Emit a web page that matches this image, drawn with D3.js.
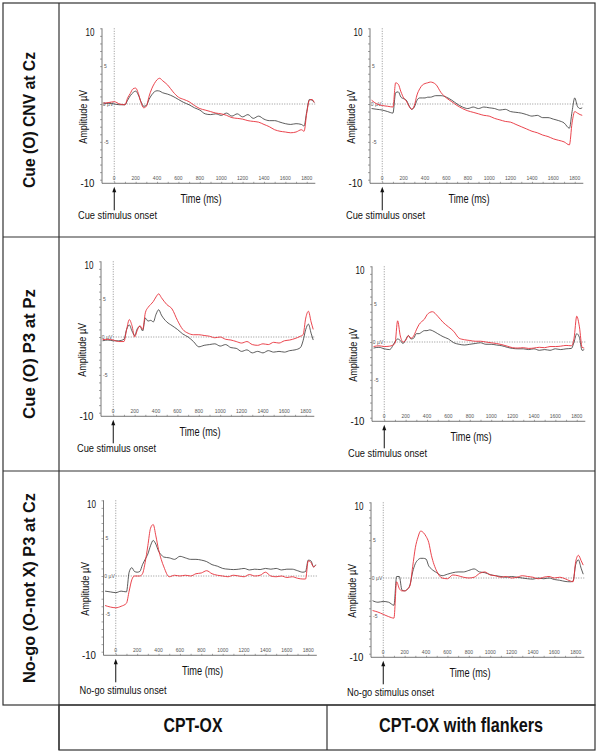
<!DOCTYPE html>
<html><head><meta charset="utf-8">
<script src="https://cdn.jsdelivr.net/npm/d3@7"></script>
<style>html,body{margin:0;padding:0;background:#fff;} svg{display:block;font-family:"Liberation Sans",Arial,sans-serif;}</style>
</head><body><svg id="c" width="600" height="755"></svg>
<script>
// ---------------- DATA ----------------
const times = [-100,-50,0,50,100,125,150,175,200,225,250,275,300,325,350,375,400,425,450,
  500,550,600,650,700,750,800,850,900,950,1000,1050,1100,1150,1200,1250,1300,1350,1400,1450,1500,1550,1600,1650,1700,1750,
  1775,1800,1825,1850,1870];

const rowLabels = ["Cue (O) CNV at Cz", "Cue (O) P3 at Pz", "No-go (O-not X) P3 at Cz"];
const colLabels = ["CPT-OX", "CPT-OX with flankers"];
const onsetLabels = ["Cue stimulus onset", "Cue stimulus onset", "No-go stimulus onset"];
const xTickValues = [0,200,400,600,800,1000,1200,1400,1600,1800];
const yMajorLabels = ["10", "-10"];
const yMinorLabels = ["5", "-5"];
const zeroLabel = "0 µV";
const xAxisTitle = "Time (ms)";
const yAxisTitle = "Amplitude µV";

// Row 1: Cue CNV at Cz
const cnvCptBlack = [0.0,0.1,0.0,-0.1,-0.1,0.5,1.1,1.5,1.7,1.2,0.3,-0.3,-0.2,0.6,1.2,1.6,1.75,1.7,1.5,
  1.3,1.0,0.6,0.2,-0.1,-0.5,-0.8,-1.3,-1.4,-1.3,-1.5,-1.2,-1.6,-1.3,-1.7,-1.4,-1.9,-1.6,-2.0,-2.2,-2.2,-2.4,-2.6,-2.7,-2.6,-2.7,
  -2.9,-1.0,0.6,0.5,0.2];
const cnvCptRed = [0.1,0.2,0.3,0.0,-0.1,0.8,1.4,2.0,2.1,1.4,0.2,-0.5,-0.3,1.0,2.0,2.7,3.2,3.4,3.1,
  2.5,1.6,0.9,0.6,0.3,-0.2,-0.6,-0.8,-1.0,-1.2,-1.3,-1.5,-1.8,-1.9,-2.0,-2.2,-2.3,-2.4,-2.7,-3.0,-3.4,-3.6,-3.7,-3.8,-3.7,-3.4,
  -3.6,-1.2,0.5,0.6,0.2];
const cnvFlkBlack = [-0.6,-0.7,-0.8,-1.0,-1.2,1.5,1.6,0.9,0.7,0.5,-0.2,-0.7,-0.4,0.5,0.8,0.8,0.8,0.9,0.9,
  1.1,1.1,0.9,0.5,0.0,-0.4,-0.6,-0.4,-0.6,-0.4,-0.5,-0.6,-0.8,-0.7,-1.0,-1.1,-1.2,-1.4,-1.6,-1.5,-1.8,-1.8,-2.0,-2.2,-2.5,-3.2,
  -1.0,0.8,-0.3,-0.6,-0.5];
const cnvFlkRed = [0.5,0.0,-0.2,-0.3,-0.4,2.8,2.6,1.6,0.8,0.4,-0.3,-0.7,-0.2,1.2,2.0,2.5,2.7,2.8,2.9,
  2.6,1.5,0.8,0.3,-0.2,-0.6,-0.9,-1.1,-1.3,-1.5,-1.6,-1.9,-2.1,-2.3,-2.4,-2.7,-3.0,-3.3,-3.6,-3.8,-4.1,-4.3,-4.6,-4.8,-5.0,-5.4,
  -2.5,-1.0,-1.2,-1.4,-1.5];
// Row 2: Cue P3 at Pz
const p3CueCptBlack = [-0.5,-0.4,-0.5,-0.5,-0.3,1.0,1.6,0.8,0.2,1.1,1.4,0.8,2.5,2.1,2.2,2.0,3.0,3.6,2.9,
  2.0,1.5,1.0,0.4,0.0,-0.6,-1.3,-1.1,-1.0,-0.9,-1.2,-1.0,-1.4,-1.5,-1.9,-1.7,-2.1,-1.9,-2.1,-1.8,-2.0,-1.9,-2.0,-1.8,-1.7,-1.4,
  -0.5,1.0,1.7,0.5,-0.4];
const p3CueCptRed = [-0.35,-0.3,-0.4,-0.6,-0.6,1.0,2.3,1.5,0.0,0.9,1.5,1.0,3.2,3.9,4.3,4.7,5.3,5.7,5.2,
  4.3,3.7,2.2,1.0,0.5,0.3,0.3,0.2,0.1,-0.1,0.0,-0.3,-0.4,-0.6,-0.8,-0.6,-1.0,-1.1,-0.9,-1.0,-0.7,-0.8,-0.5,-0.4,-0.2,0.1,
  0.3,2.5,3.4,2.0,1.0];
const p3CueFlkBlack = [-0.8,-0.7,-0.9,-1.0,0.0,0.4,0.2,-0.2,0.3,0.85,0.4,0.5,1.1,1.1,1.3,1.5,1.5,1.6,1.5,
  1.1,0.7,0.4,-0.1,-0.3,-0.4,-0.3,-0.2,-0.1,-0.3,-0.3,-0.4,-0.5,-0.7,-0.85,-0.9,-0.9,-1.0,-0.9,-1.1,-1.0,-1.1,-0.9,-1.0,-0.9,-0.85,
  0.0,1.1,0.6,-1.1,-1.0];
const p3CueFlkRed = [-0.6,-0.5,-0.6,-0.55,-0.2,2.8,0.8,0.0,0.2,0.85,0.5,0.8,1.6,2.3,2.7,3.0,3.6,3.9,4.0,
  3.4,2.6,2.0,1.4,0.5,0.3,0.2,0.1,0.1,0.0,-0.1,-0.2,-0.35,-0.55,-0.75,-0.8,-0.75,-0.85,-0.8,-0.7,-0.75,-0.6,-0.6,-0.55,-0.45,-0.5,
  0.5,3.4,2.0,-0.7,-0.8];
// Row 3: No-go P3 at Cz
const nogoCptBlack = [-2.0,-2.1,-2.2,-2.0,-2.1,0.5,1.1,0.6,0.5,0.6,1.5,2.2,2.9,4.0,4.7,4.2,3.3,2.8,2.5,
  2.4,2.2,2.6,2.4,2.2,2.2,2.1,1.9,1.5,1.3,1.0,0.9,0.85,0.9,1.0,0.8,0.9,0.85,1.0,0.9,1.0,0.8,0.9,0.9,0.7,0.5,
  0.6,2.1,2.0,1.2,1.5];
const nogoCptRed = [-3.9,-4.1,-4.2,-4.0,-3.6,-2.0,-0.5,0.0,0.0,0.0,0.3,1.8,4.0,6.3,6.8,5.3,3.5,2.2,1.2,
  -0.1,0.1,0.0,0.1,0.0,0.3,0.4,0.7,0.3,0.1,0.0,-0.1,0.1,0.0,-0.1,0.2,0.0,0.1,0.5,0.0,-0.1,0.0,-0.2,-0.1,-0.3,-0.4,
  -0.4,2.0,1.8,1.2,1.4];
const nogoFlkBlack = [-3.0,-3.2,-3.1,-3.2,-3.6,0.2,0.2,-1.6,-1.7,-1.5,-0.9,0.8,1.9,2.4,2.6,2.6,2.5,1.6,1.2,
  0.7,0.3,0.5,0.7,0.8,0.8,1.0,1.2,0.8,0.7,0.45,0.3,0.2,0.1,0.2,0.1,0.0,-0.1,-0.15,0.0,-0.1,0.0,-0.2,-0.3,-0.45,-0.5,
  -0.4,1.8,2.4,1.3,0.5];
const nogoFlkRed = [-4.3,-4.5,-4.8,-5.1,-5.3,-0.5,-1.4,-1.7,-1.7,-1.5,-1.0,1.5,4.0,5.4,6.2,6.0,5.5,4.7,3.0,
  0.9,0.0,-0.1,0.4,0.3,0.1,0.0,0.1,0.6,0.8,0.4,0.3,0.1,0.2,0.0,0.1,0.3,0.2,0.1,-0.1,0.1,0.2,0.0,0.1,-0.1,-0.4,
  -0.5,2.2,3.0,2.3,1.7];

// ---------------- LAYOUT ----------------
const panels = [
  {row:0, col:0, black:cnvCptBlack,  red:cnvCptRed,  dx:0,   dy:0},
  {row:0, col:1, black:cnvFlkBlack,  red:cnvFlkRed,  dx:0,   dy:0},
  {row:1, col:0, black:p3CueCptBlack, red:p3CueCptRed, dx:-1, dy:-1},
  {row:1, col:1, black:p3CueFlkBlack, red:p3CueFlkRed, dx:2,  dy:4},
  {row:2, col:0, black:nogoCptBlack, red:nogoCptRed, dx:1.5, dy:4},
  {row:2, col:1, black:nogoFlkBlack, red:nogoFlkRed, dx:1,   dy:6}
];
const colX = [59, 327];
const rowY = [3, 237, 471];
const rowLabelLen = [136, 130, 190];
const svg = d3.select("#c");
const border = "#333";

// grid
const g0 = svg.append("g").attr("stroke", border).attr("stroke-width", 1.2).attr("fill", "none");
g0.append("rect").attr("x", 3).attr("y", 3).attr("width", 592).attr("height", 702);
g0.append("line").attr("x1", 59).attr("x2", 59).attr("y1", 3).attr("y2", 750);
[237, 471].forEach(y => g0.append("line").attr("x1", 3).attr("x2", 595).attr("y1", y).attr("y2", y));
g0.append("rect").attr("x", 59).attr("y", 705).attr("width", 536).attr("height", 45);
g0.append("line").attr("x1", 327).attr("x2", 327).attr("y1", 705).attr("y2", 750);

// row labels
rowLabels.forEach((t, i) => {
  const cy = rowY[i] + 117;
  svg.append("text").attr("transform", `translate(35,${cy}) rotate(-90)`)
    .attr("text-anchor", "middle").attr("font-weight", "bold").attr("font-size", 16)
    .attr("fill", "#111").attr("textLength", rowLabelLen[i]).attr("lengthAdjust", "spacingAndGlyphs").text(t);
});
// column labels
colLabels.forEach((t, i) => {
  const cx = i === 0 ? 193 : 461;
  svg.append("text").attr("x", cx).attr("y", 732).attr("text-anchor", "middle")
    .attr("font-weight", "bold").attr("font-size", 20).attr("fill", "#111")
    .attr("textLength", i === 0 ? 59 : 164).attr("lengthAdjust", "spacingAndGlyphs").text(t);
});

const data = times.map((t, i) => i);

panels.forEach(p => {
  const ox = colX[p.col] + p.dx, oy = rowY[p.row] + p.dy;
  const g = svg.append("g").attr("transform", `translate(${ox},${oy})`);
  const x = d3.scaleLinear().domain([-110, 1880]).range([43.5, 256.3]);
  const y = d3.scaleLinear().domain([-10, 10]).range([176.7, 25.3]);
  const axisY = 180.3, axX = 43;

  // y axis
  const ya = g.append("g").attr("transform", `translate(${axX},0)`)
    .call(d3.axisLeft(y).tickValues(d3.range(-10, 11, 1)).tickSize(2).tickFormat(""));
  ya.select(".domain").attr("d", `M0,${y(10)}V${axisY}`).attr("stroke", "#555").attr("stroke-width", 0.8);
  ya.selectAll(".tick line").attr("stroke", "#666").attr("stroke-width", 0.6);

  // x axis
  const xa = g.append("g").attr("transform", `translate(0,${axisY})`)
    .call(d3.axisTop(x).tickValues(d3.range(0, 1801, 100)).tickSize(1.5).tickFormat(""));
  xa.select(".domain").attr("d", `M${axX},0H256.3`).attr("stroke", "#555").attr("stroke-width", 0.8);
  xa.selectAll(".tick line").attr("stroke", "#666").attr("stroke-width", 0.6);
  g.selectAll(".xl").data(xTickValues).enter().append("text")
    .attr("x", d => x(d)).attr("y", axisY - 3).attr("text-anchor", "middle")
    .attr("font-size", 5).attr("fill", "#555").text(d => String(d));

  // big y labels
  [10, -10].forEach((v, i) => {
    g.append("text").attr("x", 35.5).attr("y", y(v) + 7.5).attr("text-anchor", "end")
      .attr("font-size", 11).attr("fill", "#111")
      .attr("textLength", i === 0 ? 9 : 14).attr("lengthAdjust", "spacingAndGlyphs").text(yMajorLabels[i]);
  });
  [5, -5].forEach((v, i) => {
    g.append("text").attr("x", axX + 2).attr("y", y(v) + 1.8).attr("font-size", 5)
      .attr("fill", "#555").text(yMinorLabels[i]);
  });
  g.append("text").attr("x", x(0) - 1).attr("y", y(0) + 1.7).attr("text-anchor", "end")
    .attr("font-size", 5).attr("fill", "#555").text(zeroLabel);

  // dotted reference lines
  g.append("line").attr("x1", x(0)).attr("x2", x(0)).attr("y1", y(10)).attr("y2", axisY)
    .attr("stroke", "#666").attr("stroke-width", 0.7).attr("stroke-dasharray", "1,1.5");
  g.append("line").attr("x1", x(0)).attr("x2", 256.3).attr("y1", y(0)).attr("y2", y(0))
    .attr("stroke", "#666").attr("stroke-width", 0.7).attr("stroke-dasharray", "1,1.5");

  // curves
  const line = vals => d3.line().x(i => x(times[i])).y(i => y(vals[i])).curve(d3.curveMonotoneX)(data);
  g.append("path").attr("d", line(p.black)).attr("fill", "none").attr("stroke", "#333").attr("stroke-width", 0.8);
  g.append("path").attr("d", line(p.red)).attr("fill", "none").attr("stroke", "#e8303a").attr("stroke-width", 0.9);

  // titles
  g.append("text").attr("x", 142).attr("y", axisY + 19.5).attr("text-anchor", "middle")
    .attr("font-size", 12).attr("fill", "#111")
    .attr("textLength", 41).attr("lengthAdjust", "spacingAndGlyphs").text(xAxisTitle);
  g.append("text").attr("transform", `translate(28,${y(-1.7)}) rotate(-90)`)
    .attr("text-anchor", "middle").attr("font-size", 11.5).attr("fill", "#111")
    .attr("textLength", 54).attr("lengthAdjust", "spacingAndGlyphs").text(yAxisTitle);

  // onset arrow
  const ax0 = x(0);
  g.append("line").attr("x1", ax0).attr("x2", ax0).attr("y1", axisY + 27).attr("y2", axisY + 8)
    .attr("stroke", "#111").attr("stroke-width", 1);
  g.append("path").attr("d", `M${ax0},${axisY + 3.5}L${ax0 - 2},${axisY + 9}L${ax0 + 2},${axisY + 9}Z`).attr("fill", "#111");
  const ol = onsetLabels[p.row];
  g.append("text").attr("x", 19).attr("y", axisY + 36 + (p.row === 2 ? 3 : 0)).attr("font-size", 10)
    .attr("fill", "#111").attr("textLength", p.row === 2 ? 87 : 79).attr("lengthAdjust", "spacingAndGlyphs").text(ol);
});
</script></body></html>
